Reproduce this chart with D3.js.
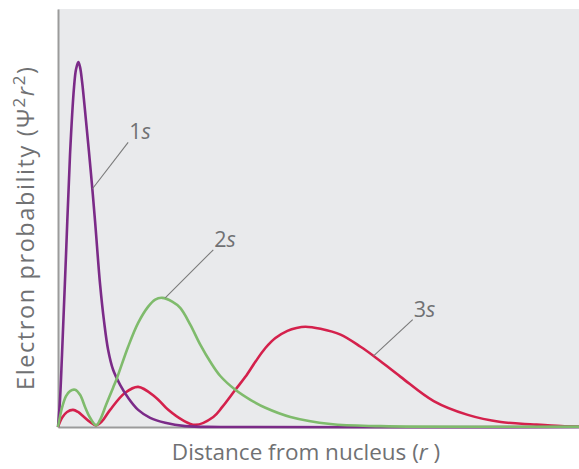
<!DOCTYPE html>
<html>
<head>
<meta charset="utf-8">
<script src="https://cdn.jsdelivr.net/npm/d3@7"></script>
<style>
	body { margin: 0; background: white; }
</style>
</head>
<body>
<div id="outer"></div>
<script>
// radial distance (arbitrary units) and probability (arbitrary units)
const r1s = [0, 0.1, 0.2, 0.4, 0.6, 0.8, 0.9, 1.015, 1.1, 1.2, 1.4, 1.65, 1.85, 2.1, 2.3, 2.5, 2.75, 3.1, 3.5, 4.0, 4.6, 5.35, 6.35, 8.1, 26];
const p1s = [0, 6.5, 17.3, 41.2, 65.2, 81.3, 85.6, 87.3, 86.1, 82.7, 73.1, 60.4, 49.2, 34.1, 25.2, 18.5, 13.7, 10.1, 7.0, 4.1, 2.2, 1.0, 0.2, 0, 0];

const r2s = [0, 0.2, 0.4, 0.6, 0.85, 1.1, 1.35, 1.6, 1.9, 2.1, 2.4, 2.75, 2.95, 3.5, 4.0, 4.5, 4.85, 5.2, 5.7, 6.1, 6.6, 7.1, 7.6, 8.1, 8.85, 9.6, 10.35, 11.6, 13.6, 16.1, 26];
const p2s = [0, 4.6, 7.4, 8.6, 8.9, 7.7, 4.8, 2.2, 0.4, 1.7, 5.3, 9.4, 11.8, 19.2, 24.9, 28.8, 30.5, 30.9, 30.0, 28.5, 24.5, 19.7, 15.6, 12.2, 8.9, 6.5, 4.6, 2.4, 0.7, 0.2, 0.1];

const r3s = [0, 0.2, 0.45, 0.75, 1.0, 1.3, 1.6, 1.9, 2.2, 2.6, 3.35, 4.0, 4.85, 5.5, 6.2, 6.85, 7.75, 8.2, 8.85, 9.35, 9.85, 10.35, 10.85, 11.45, 11.9, 12.35, 13.1, 14.1, 15.1, 15.75, 17.1, 18.75, 20.45, 22.1, 23.75, 25.1, 26];
const p3s = [0, 2.2, 3.6, 4.1, 3.6, 2.4, 1.2, 0.4, 1.4, 4.1, 8.2, 9.6, 7.2, 4.1, 1.7, 0.5, 2.4, 4.8, 8.9, 12.0, 15.6, 18.9, 21.3, 23.0, 23.7, 24.0, 23.5, 22.1, 19.2, 17.0, 12.0, 6.2, 2.9, 1.2, 0.6, 0.2, 0.1];

const orbitalNames = ['1', '2', '3'];
// leader lines: point on the curve -> label point (data units)
const leaderFromR = [1.72, 5.35, 15.75];
const leaderFromP = [57.0, 30.9, 17.0];
const leaderToR = [3.5, 7.75, 17.7];
const leaderToP = [68.1, 42.4, 25.7];

function drawOrbitalChart () {
	const widget = {};

	////////// Hard Coded Defs //////////
	const props = {
		backgroundColor: 'white',
		plotFillColor: '#e9eaec',
		axisColor: '#9b9b9b',
		textColor: '#707173',
		leaderColor: '#7a7a7a',
		colors: ['#7b2b88', '#7fbb6c', '#d4214c'],
		font: '"Open Sans", "Noto Sans", sans-serif'
	};

	////////////////////////////////////////////////////////////////
		// Setup Definitions
	////////////////////////////////////////////////////////////////
	const setupDefinitions = () => {
		const data = Object.assign({}, props);
		data.jqWidth = 579;
		data.jqHeight = 469;
		data.margin = {top: 9, left: 58, right: 0, bottom: 42};
		data.graphicWidth = data.jqWidth - data.margin.left - data.margin.right;
		data.graphicHeight = data.jqHeight - data.margin.top - data.margin.bottom;

		data.series = [
			r1s.map((r, i) => ({r, p: p1s[i]})),
			r2s.map((r, i) => ({r, p: p2s[i]})),
			r3s.map((r, i) => ({r, p: p3s[i]}))
		];

		data.x = d3.scaleLinear().domain([0, 26]).range([0, data.graphicWidth]);
		data.y = d3.scaleLinear().domain([0, 100]).range([data.graphicHeight, 0]);
		return data;
	};

	////////////////////////////////////////////////////////////////
		// RenderWidget Func
	////////////////////////////////////////////////////////////////
	const renderWidget = data => {
		widget.svg
			.attr('width', data.jqWidth)
			.attr('height', data.jqHeight)
			.style('background-color', data.backgroundColor)
			.style('font-family', data.font);

		widget.svg.selectAll('*').remove();

		const g = widget.svg.append('g')
			.attr('transform', `translate(${data.margin.left}, ${data.margin.top})`);

		g.append('rect')
			.attr('width', data.graphicWidth)
			.attr('height', data.graphicHeight)
			.attr('fill', data.plotFillColor);

		// axes (no ticks)
		const xAxis = g.append('g')
			.attr('transform', `translate(0, ${data.graphicHeight})`)
			.call(d3.axisBottom(data.x).tickValues([]).tickSizeOuter(0));
		const yAxis = g.append('g')
			.call(d3.axisLeft(data.y).tickValues([]).tickSizeOuter(0));
		[xAxis, yAxis].forEach(a => a.select('.domain')
			.attr('stroke', data.axisColor)
			.attr('stroke-width', 2));

		// curves
		const line = d3.line()
			.x(d => data.x(d.r))
			.y(d => Math.min(data.y(d.p), data.graphicHeight))
			.curve(d3.curveCatmullRom.alpha(0.5));

		// 3s underneath, then 1s, green on top
		[2, 0, 1].forEach(i => {
			g.append('path')
				.datum(data.series[i])
				.attr('fill', 'none')
				.attr('stroke', data.colors[i])
				.attr('stroke-width', 2.6)
				.attr('stroke-linejoin', 'round')
				.attr('d', line);
		});

		// leader lines + labels
		orbitalNames.forEach((n, i) => {
			g.append('line')
				.attr('x1', data.x(leaderFromR[i]))
				.attr('y1', data.y(leaderFromP[i]))
				.attr('x2', data.x(leaderToR[i]))
				.attr('y2', data.y(leaderToP[i]))
				.attr('stroke', data.leaderColor)
				.attr('stroke-width', 1.1);
			const t = g.append('text')
				.attr('x', data.x(leaderToR[i]) + 1)
				.attr('y', data.y(leaderToP[i]) - 3)
				.attr('font-size', 21.5)
				.attr('fill', data.textColor);
			t.append('tspan').text(n);
			t.append('tspan').attr('font-style', 'italic').text('s');
		});

		// x axis title
		const xt = widget.svg.append('text')
			.attr('x', 306)
			.attr('y', 460)
			.attr('text-anchor', 'middle')
			.attr('font-size', 22.5)
			.attr('fill', data.textColor);
		xt.append('tspan').text('Distance from nucleus (');
		xt.append('tspan').attr('font-style', 'italic').text('r');
		xt.append('tspan').text(' )');

		// y axis title
		const yt = widget.svg.append('text')
			.attr('transform', `translate(34, 390) rotate(-90)`)
			.attr('text-anchor', 'start')
			.attr('font-size', 23.5)
			.attr('textLength', 323)
			.attr('lengthAdjust', 'spacing')
			.attr('fill', data.textColor);
		yt.append('tspan').text('Electron probability (Ψ');
		yt.append('tspan').attr('font-size', 17).attr('dy', -9).text('2');
		yt.append('tspan').attr('font-style', 'italic').attr('dy', 9).text('r');
		yt.append('tspan').attr('font-size', 17).attr('dy', -9).text('2');
		yt.append('tspan').attr('dy', 9).text(')');
	};

	function render () {
		const theData = setupDefinitions();
		renderWidget(theData);
	}

	////////////////////////////////////////////////////////////////
		// Initialize Widget
	////////////////////////////////////////////////////////////////
	widget.outerDiv = d3.select('#outer').style('overflow', 'hidden');
	widget.svg = widget.outerDiv.append('svg').style('display', 'block');
	render();
}

drawOrbitalChart();
</script>
</body>
</html>
